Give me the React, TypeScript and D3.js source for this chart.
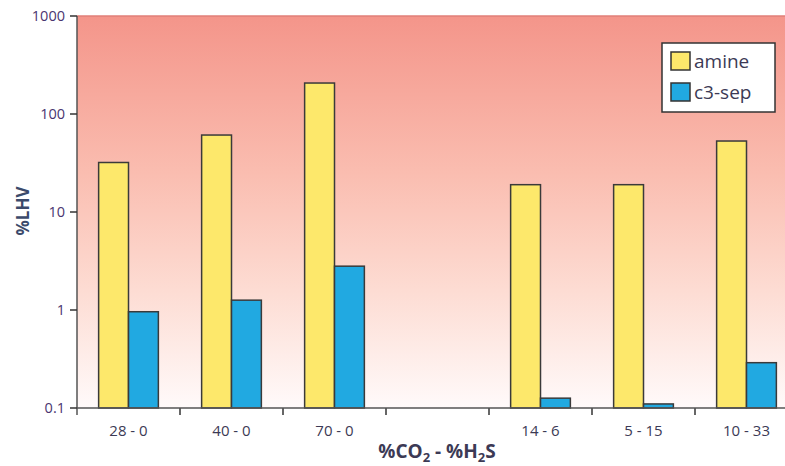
import React from "react";
import * as d3 from "d3";

const categories = ["28 - 0", "40 - 0", "70 - 0", "", "14 - 6", "5 - 15", "10 - 33"];
const amine: (number | null)[] = [32, 61, 207, null, 19, 19, 53];
const c3sep: (number | null)[] = [0.96, 1.26, 2.8, null, 0.126, 0.11, 0.29];
const yTicks = [0.1, 1, 10, 100, 1000];
const yTickLabels = ["0.1", "1", "10", "100", "1000"];

const W = 785, H = 466;
const left = 77, right = 798, top = 16, bottom = 408;
const FONT = "'Open Sans', 'DejaVu Sans', sans-serif";

export default function App() {
  const y = d3.scaleLog().domain([0.1, 1000]).range([bottom, top]);
  const x = d3.scaleBand<string>().domain(categories.map((c, i) => i + "|" + c)).range([left, right]).paddingInner(0);
  const bw = x.bandwidth();
  const barW = bw * 0.29;
  const keys = x.domain();
  const textColor = "#3c3a55";

  return (
    <svg width={W} height={H} style={{ position: "absolute", left: 0, top: 0, display: "block" }} fontFamily={FONT}>
      <defs>
        <linearGradient id="bg" x1="0" y1="0" x2="0" y2="1">
          <stop offset="0" stopColor="#f4958a" />
          <stop offset="0.4" stopColor="#fabdb0" />
          <stop offset="0.7" stopColor="#fddcd3" />
          <stop offset="1" stopColor="#fffafa" />
        </linearGradient>
      </defs>
      <rect x={left} y={top} width={W - left} height={bottom - top} fill="url(#bg)" />
      <line x1={left} x2={W} y1={top} y2={top} stroke="#e07f78" strokeWidth={1.5} />
      {keys.map((k, i) => {
        const x0 = x(k)!;
        const cx = x0 + bw / 2;
        const a = amine[i], c = c3sep[i];
        return (
          <g key={k}>
            {a != null && (
              <rect x={cx - barW} y={y(a)} width={barW} height={bottom - y(a)} fill="#fde86b" stroke="#3a3a3a" strokeWidth={1.5} />
            )}
            {c != null && (
              <rect x={cx} y={y(c)} width={barW} height={bottom - y(c)} fill="#21a9e1" stroke="#3a3a3a" strokeWidth={1.5} />
            )}
            {categories[i] && (
              <text x={cx} y={436} textAnchor="middle" fontSize={15} fill={textColor}>{categories[i]}</text>
            )}
            {i > 0 && <line x1={x0} x2={x0} y1={bottom} y2={bottom + 7} stroke="#333" strokeWidth={1.5} />}
          </g>
        );
      })}
      <line x1={left} x2={W} y1={bottom} y2={bottom} stroke="#555" strokeWidth={1.5} />
      <line x1={left} x2={left} y1={top} y2={bottom + 7} stroke="#555" strokeWidth={1.5} />
      {yTicks.map((t, i) => (
        <g key={t}>
          <line x1={left - 7} x2={left} y1={y(t)} y2={y(t)} stroke="#333" strokeWidth={1.5} />
          <text x={left - 12} y={y(t)} dy="0.35em" textAnchor="end" fontSize={14.5} fill="#4a3570">{yTickLabels[i]}</text>
        </g>
      ))}
      <text transform={`translate(23,${211}) rotate(-90)`} textAnchor="middle" dy="0.35em" fontSize={17} fontWeight="bold" fill="#3b4a6b">%LHV</text>
      <text x={437} y={458} textAnchor="middle" fontSize={19} fontWeight="bold" fill={textColor}>
        %CO<tspan fontSize={13} dy={4}>2</tspan><tspan dy={-4}> - %H</tspan><tspan fontSize={13} dy={4}>2</tspan><tspan dy={-4}>S</tspan>
      </text>
      <g>
        <rect x={662} y={43} width={113} height={69} fill="#fff" stroke="#333" strokeWidth={1.5} />
        <rect x={671} y={52} width={19} height={18} fill="#fde86b" stroke="#333" strokeWidth={1.5} />
        <rect x={671} y={83} width={19} height={18} fill="#21a9e1" stroke="#333" strokeWidth={1.5} />
        <text x={694} y={61} dy="0.35em" fontSize={19} fill={textColor}>amine</text>
        <text x={694} y={92} dy="0.35em" fontSize={19} fill={textColor}>c3-sep</text>
      </g>
    </svg>
  );
}
